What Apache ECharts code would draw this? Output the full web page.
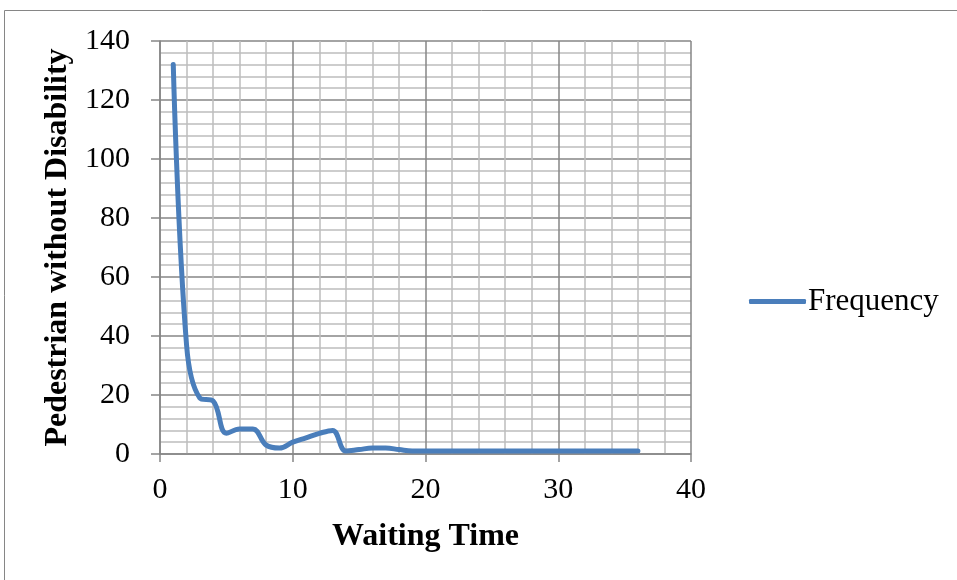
<!DOCTYPE html>
<html>
<head>
<meta charset="utf-8">
<script src="https://cdn.jsdelivr.net/npm/echarts@6/dist/echarts.min.js"></script>
<style>
html,body{margin:0;padding:0;background:#fff;}
#chart{width:957px;height:580px;}
</style>
</head>
<body>
<div id="chart"></div>
<script>
// Data
const waitingTime = [1,2,3,4,5,6,7,8,9,10,11,12,13,14,15,16,17,18,19,20,21,22,23,24,25,26,27,28,29,30,31,32,33,34,35,36];
const frequency   = [132,37,19,18,7,8.5,8.5,3,2,4,5.5,7,8,1,1.5,2,2,1.5,1,1,1,1,1,1,1,1,1,1,1,1,1,1,1,1,1,1];
const xTicks = [0,10,20,30,40];
const yTicks = [0,20,40,60,80,100,120,140];
const seriesName = 'Frequency';

const points = waitingTime.map((x,i)=>[x,frequency[i]]);
const font = '"Liberation Serif","Times New Roman",serif';
const major = '#868686';
const minor = '#bdbdbd';

const chart = echarts.init(document.getElementById('chart'), null, {renderer:'canvas'});
chart.setOption({
  animation:false,
  backgroundColor:'#fff',
  graphic:[{type:'rect', shape:{x:4.5,y:10.5,width:1000,height:1000}, style:{fill:'none',stroke:major,lineWidth:1}, silent:true}],
  grid:{left:160,right:266,top:41,bottom:126},
  legend:{
    left:744, top:281, icon:'roundRect', itemWidth:57, itemHeight:5, itemGap:0,
    textStyle:{fontFamily:font,fontSize:31,color:'#000',padding:[0,0,0,-3]},
    data:[seriesName]
  },
  xAxis:{
    type:'value', min:xTicks[0], max:xTicks[xTicks.length-1], interval:10,
    name:'Waiting Time', nameLocation:'middle', nameGap:67,
    nameTextStyle:{fontFamily:font,fontSize:32,fontWeight:'bold',color:'#000'},
    axisLine:{show:true,onZero:false,lineStyle:{color:major,width:1.5}},
    axisTick:{show:true,inside:false,length:8,lineStyle:{color:major,width:1.5}},
    axisLabel:{fontFamily:font,fontSize:30,color:'#000',margin:21},
    splitLine:{show:true,lineStyle:{color:major,width:1.5}},
    minorTick:{show:false,splitNumber:5},
    minorSplitLine:{show:true,lineStyle:{color:minor,width:1.5}}
  },
  yAxis:{
    type:'value', min:yTicks[0], max:yTicks[yTicks.length-1], interval:20,
    name:'Pedestrian without Disability', nameLocation:'middle', nameGap:83, nameRotate:90,
    nameTextStyle:{fontFamily:font,fontSize:32,fontWeight:'bold',color:'#000'},
    axisLine:{show:true,lineStyle:{color:major,width:1.5}},
    axisTick:{show:true,inside:false,length:9,lineStyle:{color:major,width:1.5}},
    axisLabel:{fontFamily:font,fontSize:30,color:'#000',margin:30},
    splitLine:{show:true,lineStyle:{color:major,width:1.5}},
    minorTick:{show:false,splitNumber:5},
    minorSplitLine:{show:true,lineStyle:{color:minor,width:1.5}}
  },
  series:[{
    name:seriesName, type:'line', data:points, smooth:0.4, showSymbol:false, symbol:'none',
    lineStyle:{color:'#4a7ebb',width:5,cap:'round',join:'round'},
    itemStyle:{color:'#4a7ebb'}
  }]
});
</script>
</body>
</html>
